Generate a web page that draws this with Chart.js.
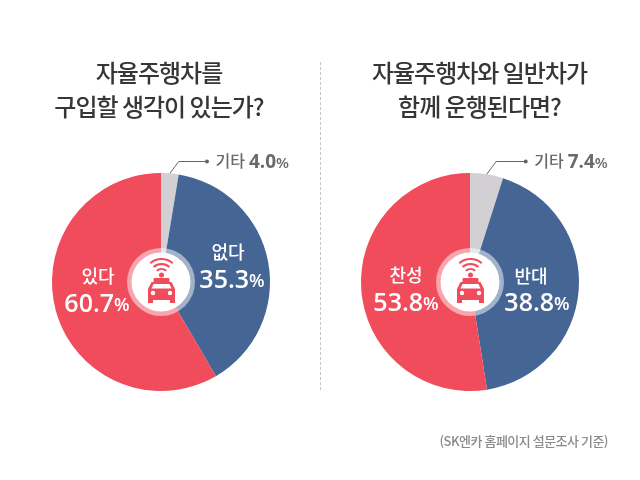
<!DOCTYPE html>
<html lang="ko">
<head>
    <meta charset="UTF-8">
    <title>자율주행차 설문</title>
    <script src="https://cdn.jsdelivr.net/npm/chart.js"></script>
    <style>
        html, body { margin: 0; padding: 0; background: #fff; width: 640px; height: 480px; overflow: hidden; }
        canvas { position: absolute; top: 0; }
        #leftChart { left: 0; }
        #rightChart { left: 320px; }
        #divider { position: absolute; left: 320px; top: 62px; height: 328px; border-left: 1px dashed #c4c4c4; }
    </style>
</head>
<body>
    <canvas id="leftChart" width="320" height="480" style="width:320px;height:480px"></canvas>
    <canvas id="rightChart" width="320" height="480" style="width:320px;height:480px"></canvas>
    <div id="divider"></div>
    <script>
        // Percentages as printed on the picture
        const leftLabels = ['기타', '없다', '있다'];
        const leftValues = [4.0, 35.3, 60.7];
        const leftTitle = ['자율주행차를', '구입할 생각이 있는가?'];

        const rightLabels = ['기타', '반대', '찬성'];
        const rightValues = [7.4, 38.8, 53.8];
        const rightTitle = ['자율주행차와 일반차가', '함께 운행된다면?'];

        // Slice sizes: the original artwork does not
        // draw its slices in proportion to the printed percentages
        const leftSlices = [2.6, 39.0, 58.4];
        const rightSlices = [4.9, 42.6, 52.5];

        const sourceNote = '(SK엔카 홈페이지 설문조사 기준)';

        const sliceColors = ['#d2d0d2', '#456594', '#f04c5c'];
        const krFont = '"Noto Sans CJK KR"';
        const numFont = '"Open Sans"';

        function drawCarIcon(ctx, x, y) {
            ctx.save();
            ctx.translate(x + 0.5, y);
            ctx.strokeStyle = '#f04c5c';
            ctx.fillStyle = '#f04c5c';
            ctx.lineWidth = 2;
            [7, 12, 17].forEach(r => {
                ctx.beginPath();
                ctx.arc(0, -6, r, Math.PI * 1.27, Math.PI * 1.73);
                ctx.stroke();
            });
            ctx.beginPath();
            ctx.arc(0, -7, 2.5, 0, Math.PI * 2);
            ctx.fill();
            // cab
            ctx.beginPath();
            ctx.roundRect(-8, -4, 16, 5, 1);
            ctx.fill();
            // body
            ctx.beginPath();
            ctx.moveTo(-10, 0);
            ctx.lineTo(10, 0);
            ctx.lineTo(13.5, 7);
            ctx.lineTo(13.5, 18);
            ctx.lineTo(-13.5, 18);
            ctx.lineTo(-13.5, 7);
            ctx.closePath();
            ctx.fill();
            // wheels
            ctx.fillRect(-13.5, 17, 5, 4);
            ctx.fillRect(8.5, 17, 5, 4);
            // windshield and lights
            ctx.fillStyle = '#fff';
            ctx.beginPath();
            ctx.moveTo(-8, 2);
            ctx.lineTo(8, 2);
            ctx.lineTo(10, 6.5);
            ctx.lineTo(-10, 6.5);
            ctx.closePath();
            ctx.fill();
            ctx.beginPath();
            ctx.arc(-8.5, 11, 2.2, 0, Math.PI * 2);
            ctx.arc(8.5, 11, 2.2, 0, Math.PI * 2);
            ctx.fill();
            ctx.restore();
        }

        // pos = [name x, name y, number x, number y], relative to the pie centre
        function drawLabel(ctx, cx, cy, pos, name, value) {
            ctx.textAlign = 'center';
            ctx.textBaseline = 'middle';
            ctx.fillStyle = '#fff';
            ctx.font = '500 18px ' + krFont;
            ctx.fillText(name, cx + pos[0], cy + pos[1]);
            const num = value.toFixed(1);
            ctx.font = '600 25px ' + numFont;
            const numW = ctx.measureText(num).width;
            ctx.font = '600 18px ' + numFont;
            const pctW = ctx.measureText('%').width;
            const left = cx + pos[2] - (numW + pctW) / 2;
            ctx.textAlign = 'left';
            ctx.fillText('%', left + numW, cy + pos[3] + 1);
            ctx.font = '600 25px ' + numFont;
            ctx.fillText(num, left, cy + pos[3]);
        }

        // Draws the titles, centre badge, slice labels and the leader line
        const pieDecor = {
            id: 'pieDecor',
            afterDraw(chart, args, opts) {
                const ctx = chart.ctx;
                const arcs = chart.getDatasetMeta(0).data;
                const cx = arcs[0].x, cy = arcs[0].y, outer = arcs[0].outerRadius;
                const labels = chart.data.labels;
                const values = opts.printed;

                ctx.save();
                // titles
                ctx.textAlign = 'center';
                ctx.textBaseline = 'middle';
                ctx.fillStyle = '#363636';
                ctx.font = '500 24px ' + krFont;
                ctx.letterSpacing = '-1px';
                opts.title.forEach((line, i) => ctx.fillText(line, cx + opts.titleShift, 73 + i * 34));
                ctx.letterSpacing = '0px';

                // centre badge
                ctx.fillStyle = 'rgba(255,255,255,0.5)';
                ctx.beginPath();
                ctx.arc(cx, cy, 34, 0, Math.PI * 2);
                ctx.fill();
                ctx.fillStyle = '#fff';
                ctx.beginPath();
                ctx.arc(cx, cy, 29.5, 0, Math.PI * 2);
                ctx.fill();
                drawCarIcon(ctx, cx, cy);

                // blue and red slice labels
                drawLabel(ctx, cx, cy, opts.offsets[0], labels[1], values[1]);
                drawLabel(ctx, cx, cy, opts.offsets[1], labels[2], values[2]);

                // leader line for the small slice
                const mid = (arcs[0].startAngle + arcs[0].endAngle) / 2;
                const x0 = cx + Math.cos(mid) * outer;
                const y0 = cy + Math.sin(mid) * outer;
                const lineY = 161.5;
                const x1 = x0 + (y0 - lineY) * 0.74;
                ctx.strokeStyle = '#666';
                ctx.lineWidth = 1;
                ctx.beginPath();
                ctx.moveTo(x0, y0);
                ctx.lineTo(x1, lineY);
                ctx.lineTo(opts.dotX, lineY);
                ctx.stroke();
                ctx.fillStyle = '#666';
                ctx.beginPath();
                ctx.arc(opts.dotX, lineY, 2, 0, Math.PI * 2);
                ctx.fill();

                ctx.textAlign = 'left';
                ctx.fillStyle = '#6a6a6a';
                ctx.font = '500 16px ' + krFont;
                ctx.fillText(labels[0], opts.dotX + 8.5, lineY - 1);
                let tx = opts.dotX + 8.5 + ctx.measureText(labels[0]).width + 4;
                const num = values[0].toFixed(1);
                ctx.font = '700 19px ' + numFont;
                ctx.fillText(num, tx, lineY + 1);
                tx += ctx.measureText(num).width;
                ctx.font = '600 15px ' + numFont;
                ctx.fillText('%', tx, lineY + 2);

                if (opts.note) {
                    ctx.textAlign = 'right';
                    ctx.fillStyle = '#8a8a8a';
                    ctx.font = '500 13px ' + krFont;
                    ctx.letterSpacing = '-0.5px';
                    ctx.fillText(opts.note, 288, 441);
                    ctx.letterSpacing = '0px';
                }
                ctx.restore();
            }
        };

        function makePie(id, labels, slices, padding, decor) {
            return new Chart(document.getElementById(id), {
                type: 'pie',
                data: {
                    labels: labels,
                    datasets: [{ data: slices, backgroundColor: sliceColors, borderWidth: 0 }]
                },
                options: {
                    responsive: false,
                    animation: false,
                    layout: { padding: padding },
                    plugins: {
                        legend: { display: false },
                        tooltip: { enabled: false },
                        pieDecor: decor
                    }
                },
                plugins: [pieDecor]
            });
        }

        document.fonts.load('500 24px ' + krFont).finally(() => {
            makePie('leftChart', leftLabels, leftSlices,
                { left: 52, right: 50, top: 173, bottom: 89 },
                { printed: leftValues, title: leftTitle, titleShift: -2, dotX: 207,
                  offsets: [[67, -30, 71, -1], [-63, -6, -64, 23]] });
            makePie('rightChart', rightLabels, rightSlices,
                { left: 41, right: 61, top: 173, bottom: 89 },
                { printed: rightValues, title: rightTitle, titleShift: 9.5, dotX: 205.7, note: sourceNote,
                  offsets: [[61, -6, 67, 22], [-64, -7, -64, 22]] });
        });
    </script>
</body>
</html>
